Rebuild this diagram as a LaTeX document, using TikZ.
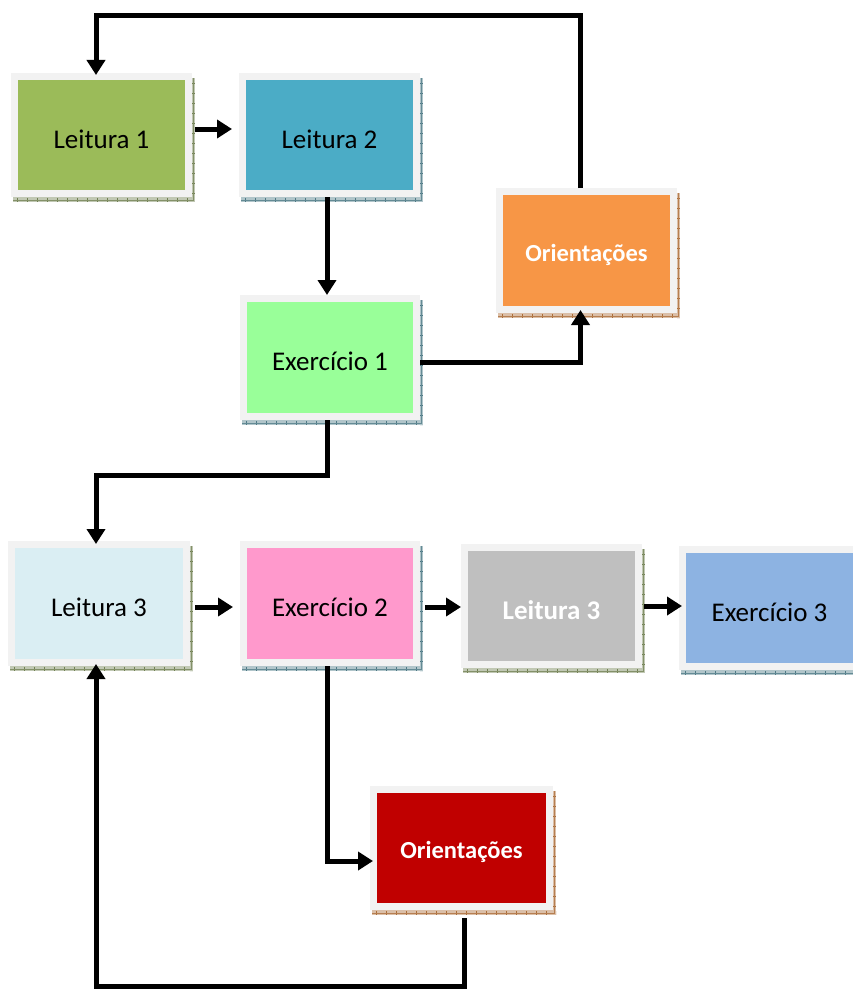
\documentclass[tikz,border=0pt]{standalone}
\usepackage{fontspec}
\setmainfont{Carlito}
\usetikzlibrary{arrows.meta}
\definecolor{frameC}{HTML}{F2F2F2}
\definecolor{cLa}{HTML}{9BBB59}
\definecolor{cLb}{HTML}{4BACC6}
\definecolor{cOr}{HTML}{F79646}
\definecolor{cEa}{HTML}{99FF99}
\definecolor{cLc}{HTML}{DAEEF3}
\definecolor{cEb}{HTML}{FF99CC}
\definecolor{cGr}{HTML}{BFBFBF}
\definecolor{cEc}{HTML}{8DB3E2}
\definecolor{cRe}{HTML}{C00000}
\definecolor{shOl}{HTML}{4F6228}
\definecolor{shTe}{HTML}{215968}
\definecolor{shBr}{HTML}{974806}
\tikzset{
  framebox/.style={fill=frameC, inner sep=0pt, outer sep=0pt},
  innerbox/.style={inner sep=0pt, outer sep=0pt},
  labeltext/.style={inner sep=0pt, align=center},
  regtext/.style={font=\fontsize{27}{32}\selectfont, text=black},
  boldtext/.style={font=\fontsize{27}{32}\selectfont\bfseries, text=white},
  oritext/.style={font=\fontsize{24.5}{29}\selectfont\bfseries, text=white},
  conn/.style={line width=5pt, line join=miter, -{Triangle[length=15pt,width=18pt]}},
}
% #1 name, #2 x0, #3 y0, #4 x1, #5 y1, #6 fill, #7 shadow colour, #8 text style, #9 text
\newcommand\dbox[9]{%
  \fill[#7!35!white] (#2+2,#3+5) rectangle (#4+3,#5+5);
  \draw[#7!80!white, line width=4pt, dash pattern=on 0.7pt off 9.3pt] (#2+6,#5+3) -- (#4+3,#5+3);
  \draw[#7!80!white, line width=3pt, dash pattern=on 0.7pt off 9.3pt] (#4+1.5,#3+10) -- (#4+1.5,#5+5);
  \draw[#7!70!white, line width=0.7pt] (#2+2,#5+3) -- (#4+1.5,#5+3) -- (#4+1.5,#3+5);
  \node[framebox, minimum width={(#4-#2)*1pt}, minimum height={(#5-#3)*1pt}] (#1) at ({(#2+#4)/2},{(#3+#5)/2}) {};
  \node[innerbox, fill=#6, minimum width={(#4-#2-14)*1pt}, minimum height={(#5-#3-14)*1pt}] (#1-in) at (#1.center) {};
  \node[labeltext, #8] (#1-t) at ([yshift=-4pt]#1.center) {#9};
}
\begin{document}
\begin{tikzpicture}[x=1pt,y=-1pt]
\useasboundingbox (0,0) rectangle (853,990);
\fill[white] (0,0) rectangle (853,990);
% boxes
\dbox{la}{11}{73}{192}{197}{cLa}{shOl}{regtext}{Leitura 1}
\dbox{lb}{239}{73}{420}{197}{cLb}{shTe}{regtext}{Leitura 2}
\dbox{or}{496}{188}{677}{313}{cOr}{shBr}{oritext}{Orientações}
\dbox{ea}{240}{295}{420}{420}{cEa}{shTe}{regtext}{Exercício 1}
\dbox{lc}{8}{541}{190}{666}{cLc}{shOl}{regtext}{Leitura 3}
\dbox{eb}{240}{541}{420}{666}{cEb}{shTe}{regtext}{Exercício 2}
\dbox{gr}{461}{544}{642}{668}{cGr}{shOl}{boldtext}{Leitura 3}
\dbox{ec}{679}{546}{860}{670}{cEc}{shTe}{regtext}{Exercício 3}
\dbox{re}{370}{786}{553}{910}{cRe}{shBr}{oritext}{Orientações}
% bend points
\coordinate (t1) at (580.5,15.5);
\coordinate (t2) at (96,15.5);
\coordinate (c2) at (580.5,362);
\coordinate (c3) at (327,475.5);
\coordinate (c4) at (96,475.5);
\coordinate (c6) at (327,861);
\coordinate (c7) at (464,986.5);
\coordinate (c8) at (96,986.5);
\coordinate (r1) at (0,129);
\coordinate (r2) at (0,607);
\coordinate (r3) at (0,606);
% connectors
\draw[conn] (t1 |- or.north) -- (t1) -- (t2) -- ([yshift=-2pt]t2 |- la.north);
\draw[conn, shorten <=3pt, shorten >=7pt] (la.east |- r1) -- (lb.west |- r1);
\draw[conn] (c3 |- lb.south) -- (c3 |- ea.north);
\draw[conn] (ea.east |- c2) -- (c2) -- ([yshift=3pt]c2 |- or.south);
\draw[conn] (c3 |- ea.south) -- (c3) -- (c4) -- ([yshift=-3pt]c4 |- lc.north);
\draw[conn, shorten <=5pt, shorten >=7pt] (lc.east |- r2) -- (eb.west |- r2);
\draw[conn, shorten <=5pt] (eb.east |- r2) -- (gr.west |- r2);
\draw[conn, shorten <=2pt] (gr.east |- r3) -- ([xshift=3pt]ec.west |- r3);
\draw[conn] (c3 |- eb.south) -- (c6) -- ([xshift=3pt]c6 -| re.west);
\draw[conn, shorten <=8pt] (c7 |- re.south) -- (c7) -- (c8) -- ([yshift=2pt]c8 |- lc.south);
\end{tikzpicture}
\end{document}
